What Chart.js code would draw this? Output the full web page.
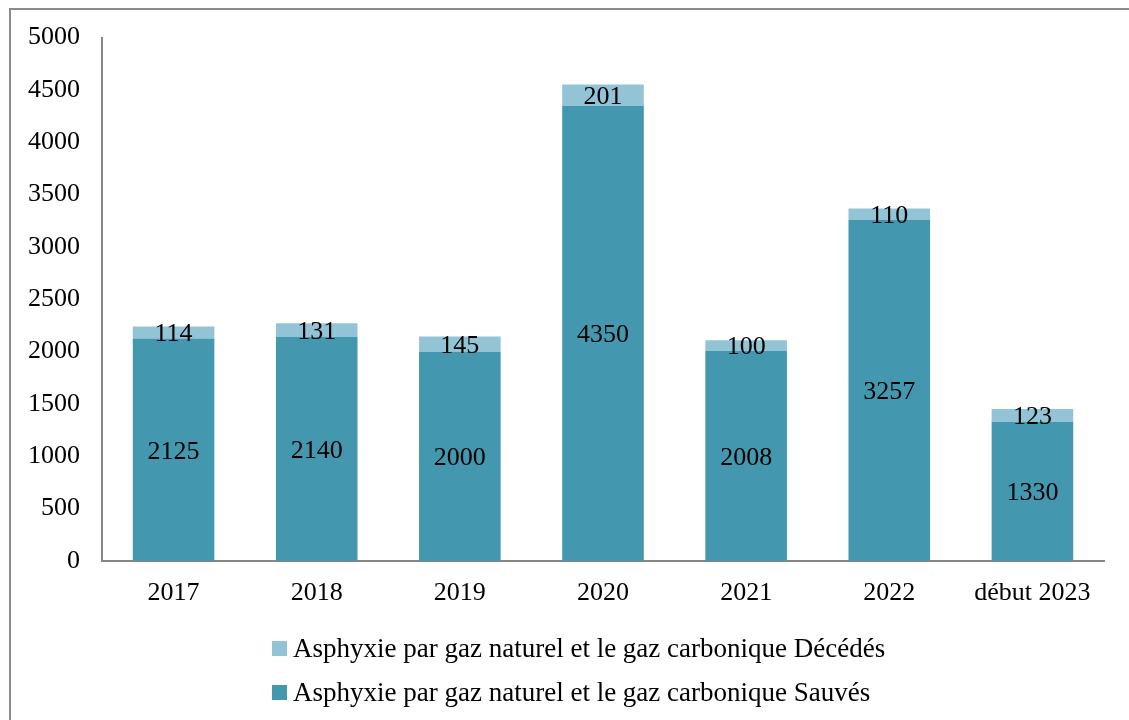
<!DOCTYPE html>
<html>
<head>
<meta charset="utf-8">
<script src="https://cdn.jsdelivr.net/npm/chart.js@4.4.0/dist/chart.umd.min.js"></script>
<style>
  html, body { margin: 0; padding: 0; background: #fff; }
  .wrap { position: relative; width: 1129px; height: 720px; overflow: hidden; }
  .frame { position: absolute; left: 9px; top: 8px; width: 1200px; height: 800px;
           border-left: 2px solid #8c8c8c; border-top: 2px solid #8c8c8c; }
  canvas { position: absolute; left: 0; top: 0; }
  #legend { position: absolute; left: 272px; top: 630px; font-family: 'Liberation Serif', 'Times New Roman', serif;
            font-size: 27px; color: #000; }
  #legend .item { height: 44px; line-height: 36px; white-space: nowrap; }
  #legend .box { display: inline-block; width: 15px; height: 15px; margin-right: 6px; vertical-align: 1px; }
</style>
</head>
<body>
<div class="wrap">
  <div class="frame"></div>
  <canvas id="bar-chart" width="1129" height="720"></canvas>
  <div id="legend"></div>
</div>
<script>
var years = ["2017", "2018", "2019", "2020", "2021", "2022", "début 2023"];
var sauves = [2125, 2140, 2000, 4350, 2008, 3257, 1330];
var decedes = [114, 131, 145, 201, 100, 110, 123];
var serif = "'Liberation Serif', 'Times New Roman', serif";

// labels in the middle of each segment
var segLabels = {
  id: 'segLabels',
  afterDatasetsDraw: function(chart) {
    var ctx = chart.ctx;
    ctx.save();
    ctx.font = "26px " + serif;
    ctx.fillStyle = "#000";
    ctx.textAlign = "center";
    ctx.textBaseline = "middle";
    chart.data.datasets.forEach(function(ds, i) {
      chart.getDatasetMeta(i).data.forEach(function(bar, j) {
        var mid = (bar.y + bar.base) / 2 + 2;
        ctx.fillText(ds.data[j], bar.x, mid);
      });
    });
    ctx.restore();
  }
};

var chart = new Chart(document.getElementById("bar-chart"), {
  type: 'bar',
  data: {
    labels: years,
    datasets: [{
        label: "Asphyxie par gaz naturel et le gaz carbonique Sauvés",
        data: sauves,
        backgroundColor: "#4398b0"
      }, {
        label: "Asphyxie par gaz naturel et le gaz carbonique Décédés",
        data: decedes,
        backgroundColor: "#93c4d6"
      }
    ]
  },
  options: {
    responsive: false,
    animation: false,
    layout: { padding: { top: 28, right: 25, left: 0, bottom: 109 } },
    datasets: { bar: { barPercentage: 0.57, categoryPercentage: 1 } },
    scales: {
      x: {
        stacked: true,
        grid: { display: false, drawTicks: false },
        border: { color: "#868686", width: 2 },
        ticks: { color: "#000", font: { family: serif, size: 26 }, padding: 17 },
        afterFit: function(s) { s.height = 50; }
      },
      y: {
        stacked: true,
        min: 0, max: 5000,
        grid: { display: false, drawTicks: false },
        border: { color: "#868686", width: 2 },
        ticks: {
          stepSize: 500, color: "#000", font: { family: serif, size: 26 }, padding: 22,
          callback: function(v) { return String(v); }
        },
        afterFit: function(s) { s.width = 102; }
      }
    },
    plugins: {
      legend: { display: false },
      tooltip: { enabled: false }
    }
  },
  plugins: [segLabels]
});

// legend, top entry is the upper segment
var legendHtml = "";
chart.data.datasets.slice().reverse().forEach(function(ds) {
  legendHtml += '<div class="item"><span class="box" style="background:' + ds.backgroundColor + '"></span>' + ds.label + '</div>';
});
document.getElementById("legend").innerHTML = legendHtml;
</script>
</body>
</html>
